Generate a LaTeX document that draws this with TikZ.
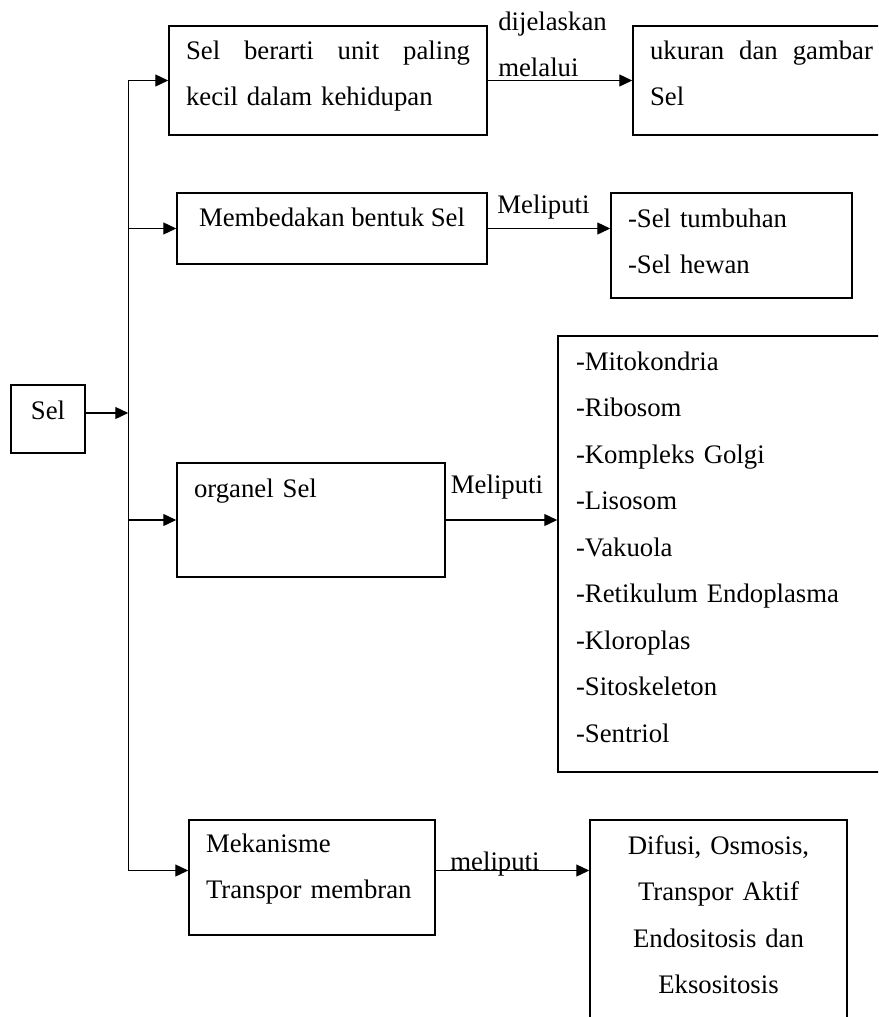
\documentclass[tikz,border=0pt]{standalone}
\usepackage{fontspec}
\setmainfont{Liberation Serif}
\usetikzlibrary{arrows.meta}
\tikzset{
  box/.style={draw, line width=1.5pt, inner xsep=17pt, inner ysep=0pt},
  td/.style={text height=15pt, text depth=#1},
  arr/.style={-{Triangle[length=13pt,width=12pt]}, line width=1.3pt},
  lbl/.style={inner sep=0pt},
}
\begin{document}
\begin{tikzpicture}[x=1pt, y=-1pt, font=\fontsize{26.75}{46.5}\selectfont]
    \useasboundingbox (0,0) rectangle (878,1017);
    \clip (0,0) rectangle (878,1017);
    \node[box, inner sep=0pt, minimum width=74pt, minimum height=68pt, td=14pt] (sel) at (48,419) {Sel};
    \node[box, text width=284pt, align=left, minimum height=109pt, td=58pt] (b1) at ([shift={(280,-338.5)}] sel) {Sel\hfill berarti\hfill unit\hfill paling\\ kecil dalam kehidupan};
    \node[box, text width=223pt, align=left, minimum height=109pt, td=58pt] (u1) at ([shift={(433.5,0)}] b1) {ukuran\hfill dan\hfill gambar\\ Sel};
    \node[box, minimum width=310pt, minimum height=71pt, td=19pt] (b2) at ([shift={(4,148)}] b1) {Membedakan bentuk Sel};
    \node[box, text width=207pt, align=left, minimum height=105pt, td=52pt] (s2) at ([shift={(399.5,17)}] b2) {-Sel tumbuhan\\ -Sel hewan};
    \node[box, text width=234pt, align=left, minimum height=114pt, td=61pt] (org) at ([shift={(-21,291.5)}] b2) {organel Sel};
    \node[box, inner xsep=18pt, text width=300pt, align=left, minimum height=436pt, td=383pt] (lst) at ([shift={(415,34)}] org) {-Mitokondria\\ -Ribosom\\ -Kompleks Golgi\\ -Lisosom\\ -Vakuola\\ -Retikulum Endoplasma\\ -Kloroplas\\ -Sitoskeleton\\ -Sentriol};
    \node[box, text width=212pt, align=left, minimum height=115pt, td=66pt] (mek) at ([shift={(1,357.5)}] org) {Mekanisme\\ Transpor membran};
    \node[box, anchor=north, inner ysep=19pt, text width=223pt, align=center, td=200pt] (res) at ([shift={(406.5,0)}] mek.north) {Difusi, Osmosis,\\ Transpor Aktif\\ Endositosis dan\\ Eksositosis};
    \coordinate (trunk) at ([shift={(-40,0)}] b1.west);
    % trunk and branches
    \draw[arr] ([yshift=7pt]mek.west -| trunk) |- (b1.west);
    \draw[arr] (b2.west -| trunk) -- (b2.west);
    \draw[arr] (org.west -| trunk) -- (org.west);
    \draw[arr] ([yshift=7pt]mek.west -| trunk) -- ([yshift=7pt]mek.west);
    \draw[arr] ([yshift=6pt]sel.east) -- ([yshift=6pt]sel.east -| trunk);
    % right side
    \draw[arr] (b1) -- node[lbl, above=3pt, xshift=-7.5pt, align=left] (l1) {dijelaskan\\melalui} (u1);
    \draw[arr] (b2.east) -- node[lbl, above=9pt, xshift=-5.5pt] (l2) {Meliputi} (b2.east -| s2.west);
    \draw[arr] (org.east) -- node[lbl, above=20pt, xshift=-4.5pt] (l3) {Meliputi} (org.east -| lst.west);
    \draw[arr] ([yshift=7pt]mek.east) -- node[lbl, anchor=base, xshift=-17.5pt] (l4) {meliputi} ([yshift=7pt]mek.east -| res.west);
\end{tikzpicture}
\end{document}
